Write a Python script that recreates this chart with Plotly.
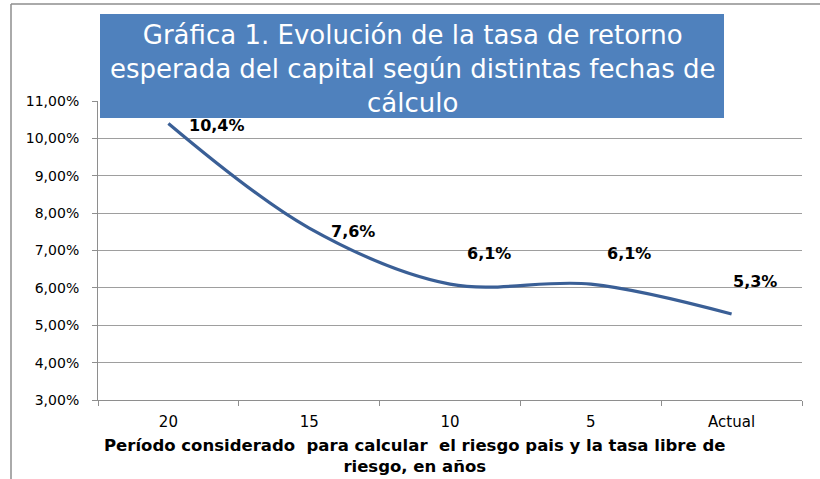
import plotly.graph_objects as go

categories = ["20", "15", "10", "5", "Actual"]
values = [10.4, 7.6, 6.1, 6.1, 5.3]
y_ticks = [3, 4, 5, 6, 7, 8, 9, 10, 11]
y_tick_labels = ["3,00%", "4,00%", "5,00%", "6,00%", "7,00%", "8,00%", "9,00%", "10,00%", "11,00%"]
data_labels = [f"{v:.1f}".replace(".", ",") + "%" for v in values]
label_xshift = [49, 44, 39, 38, 23]
label_yshift = [-2, -3, 31, 31, 33]

W, H = 820, 479
L, R, T, B = 98, 18, 101, 79
pw, ph = W - L - R, H - T - B
FONT = "DejaVu Sans"

def px(x):
    return (x - L) / pw

def py(y):
    return (H - B - y) / ph

fig = go.Figure()
fig.add_trace(go.Scatter(
    x=categories, y=values, mode="lines",
    line=dict(color="#3A5F96", width=3.2, shape="spline", smoothing=1.0),
    hoverinfo="skip", showlegend=False, cliponaxis=False,
))

annotations = []
for i, (v, t, xs, ys) in enumerate(zip(values, data_labels, label_xshift, label_yshift)):
    annotations.append(dict(x=i, y=v, xref="x", yref="y", text=f"<b>{t}</b>", showarrow=False,
                            xanchor="center", yanchor="middle",
                            xshift=xs, yshift=ys, font=dict(family=FONT, size=16, color="black")))

# title box text
annotations.append(dict(
    x=px(412), y=py(69), xref="paper", yref="paper", showarrow=False,
    xanchor="center", yanchor="middle",
    text="Gráfica 1. Evolución de la tasa de retorno<br>esperada del capital según distintas fechas de<br>cálculo",
    font=dict(family=FONT, size=26, color="white"), align="center",
))
# x-axis title
annotations.append(dict(
    x=px(414), y=py(456), xref="paper", yref="paper", showarrow=False,
    xanchor="center", yanchor="middle",
    text="<b>Período considerado  para calcular  el riesgo pais y la tasa libre de<br>riesgo, en años</b>",
    font=dict(family=FONT, size=16.5, color="black"), align="center",
))

shapes = [
    dict(type="rect", xref="paper", yref="paper", x0=px(100), x1=px(724), y0=py(118), y1=py(14),
         fillcolor="#4F81BD", line=dict(width=0), layer="above"),
    dict(type="line", xref="paper", yref="paper", x0=px(11), x1=px(820), y0=py(4), y1=py(4),
         line=dict(color="#8E8E8E", width=1.5)),
    dict(type="line", xref="paper", yref="paper", x0=px(11), x1=px(11), y0=py(4), y1=py(479),
         line=dict(color="#8E8E8E", width=1.5)),
]

fig.update_layout(
    width=W, height=H,
    margin=dict(l=L, r=R, t=T, b=B, autoexpand=False),
    paper_bgcolor="white", plot_bgcolor="white",
    font=dict(family=FONT, size=14, color="black"),
    xaxis=dict(
        type="category", range=[-0.5, 4.5], tickson="boundaries",
        ticks="outside", ticklen=5, tickcolor="#8E8E8E",
        showline=True, linecolor="#8E8E8E", linewidth=1,
        showgrid=False, tickfont=dict(size=15, family=FONT),
        ticklabelstandoff=8,
    ),
    yaxis=dict(
        range=[3, 11], tickvals=y_ticks, ticktext=y_tick_labels,
        ticks="outside", ticklen=5, tickcolor="#8E8E8E",
        showline=True, linecolor="#8E8E8E", linewidth=1,
        showgrid=True, gridcolor="#9E9E9E", gridwidth=1,
        tickfont=dict(size=14, family=FONT), zeroline=False,
        ticklabelstandoff=10,
    ),
    annotations=annotations,
    shapes=shapes,
)

fig.write_html("out.html", config={"displayModeBar": False})

with open("out.html", "r", encoding="utf-8") as f:
    html = f.read()
html = html.replace("<head>", "<head><style>html,body{margin:0;padding:0;overflow:hidden;}</style>", 1)
with open("out.html", "w", encoding="utf-8") as f:
    f.write(html)
